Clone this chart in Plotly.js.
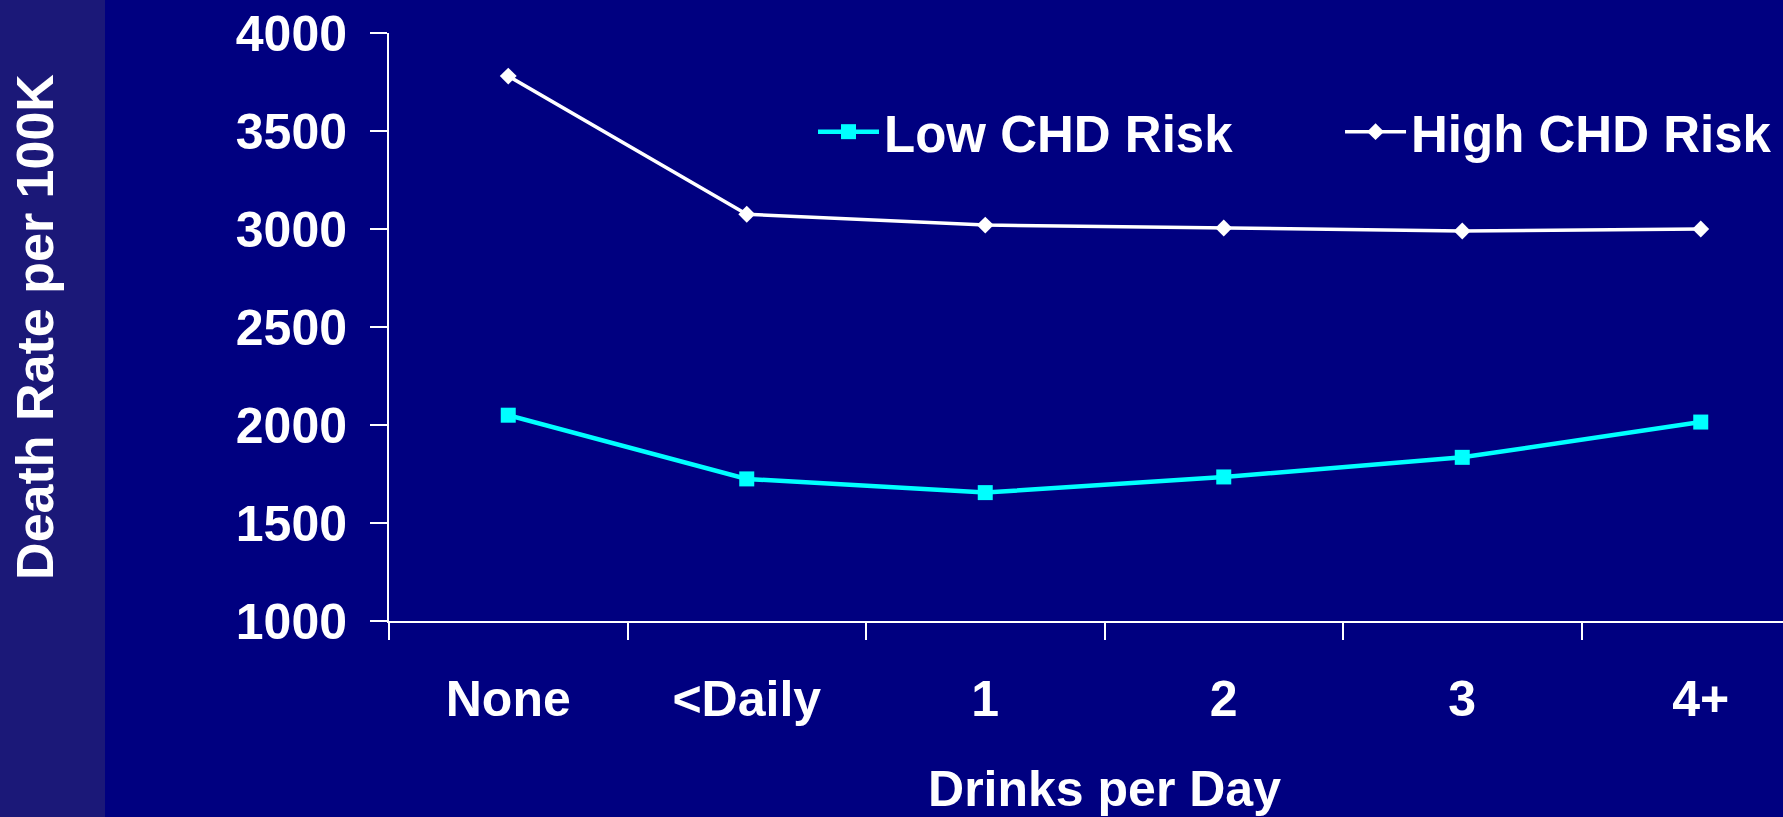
<!DOCTYPE html>
<html>
<head>
<meta charset="utf-8">
<script src="https://cdn.plot.ly/plotly-3.0.1.min.js"></script>
<style>
  html, body { margin: 0; padding: 0; overflow: hidden; background: #000080; }
  #chart { width: 1830px; height: 817px; }
</style>
</head>
<body>
<div id="chart"></div>
<script>
// Death rate per 100K by drinks per day, split by coronary heart disease risk
const drinkCategories = ['None', '<Daily', '1', '2', '3', '4+'];
const lowRiskRates = [2050, 1725, 1655, 1735, 1835, 2015];
const highRiskRates = [3780, 3075, 3020, 3005, 2990, 3000];
const seriesNames = ['Low CHD Risk', 'High CHD Risk'];
const yTickValues = [1000, 1500, 2000, 2500, 3000, 3500, 4000];

const FONT = 'Liberation Sans, Arial, Helvetica, sans-serif';
const bigFont = { family: FONT, size: 50, color: '#ffffff', weight: 'bold' };
const legendFont = { family: FONT, size: 51, color: '#ffffff', weight: 'bold' };
const yTitleFont = { family: FONT, size: 52, color: '#ffffff', weight: 'bold' };

const traces = [
  {
    x: drinkCategories, y: lowRiskRates, name: seriesNames[0],
    type: 'scatter', mode: 'lines+markers', legend: 'legend',
    line: { color: '#00ffff', width: 4.5 },
    marker: { symbol: 'square', size: 15, color: '#00ffff' },
    hoverinfo: 'x+y+name'
  },
  {
    x: drinkCategories, y: highRiskRates, name: seriesNames[1],
    type: 'scatter', mode: 'lines+markers', legend: 'legend2',
    line: { color: '#ffffff', width: 3.5 },
    marker: { symbol: 'diamond', size: 13, color: '#ffffff' },
    hoverinfo: 'x+y+name'
  }
];

const legendBase = {
  orientation: 'h', xanchor: 'left', yanchor: 'middle', y: 0.8316,
  font: legendFont, bgcolor: 'rgba(0,0,0,0)', borderwidth: 0, itemwidth: 61
};

const layout = {
  width: 1830, height: 817,
  margin: { l: 389, r: 10, t: 33, b: 196 },
  paper_bgcolor: '#000080', plot_bgcolor: '#000080',
  font: bigFont,
  showlegend: true,
  legend: Object.assign({}, legendBase, { x: 0.2963 }),
  legend2: Object.assign({}, legendBase, { x: 0.6646 }),
  xaxis: {
    type: 'category', categoryorder: 'array', categoryarray: drinkCategories,
    range: [-0.5, 5.5], fixedrange: true,
    showline: true, linecolor: '#ffffff', linewidth: 2,
    ticks: 'outside', tickson: 'boundaries', ticklen: 17, tickwidth: 2, tickcolor: '#ffffff',
    showgrid: false, zeroline: false,
    tickfont: bigFont, ticklabelstandoff: 33,
    title: { text: 'Drinks per Day', font: bigFont, standoff: 45 }
  },
  yaxis: {
    range: [1000, 4000], fixedrange: true,
    tickvals: yTickValues,
    showline: true, linecolor: '#ffffff', linewidth: 2,
    ticks: 'outside', ticklen: 17, tickwidth: 2, tickcolor: '#ffffff',
    showgrid: false, zeroline: false,
    tickfont: bigFont, ticklabelstandoff: 13,
    title: { text: 'Death Rate per 100K', font: yTitleFont, standoff: 166 }
  },
  shapes: [
    {
      type: 'rect', xref: 'paper', yref: 'paper', layer: 'below',
      x0: -389 / 1431, x1: (105 - 389) / 1431, y0: -1, y1: 2,
      fillcolor: '#1b1878', line: { width: 0 }
    }
  ]
};

Plotly.newPlot('chart', traces, layout, { displayModeBar: false, staticPlot: true });
</script>
</body>
</html>
